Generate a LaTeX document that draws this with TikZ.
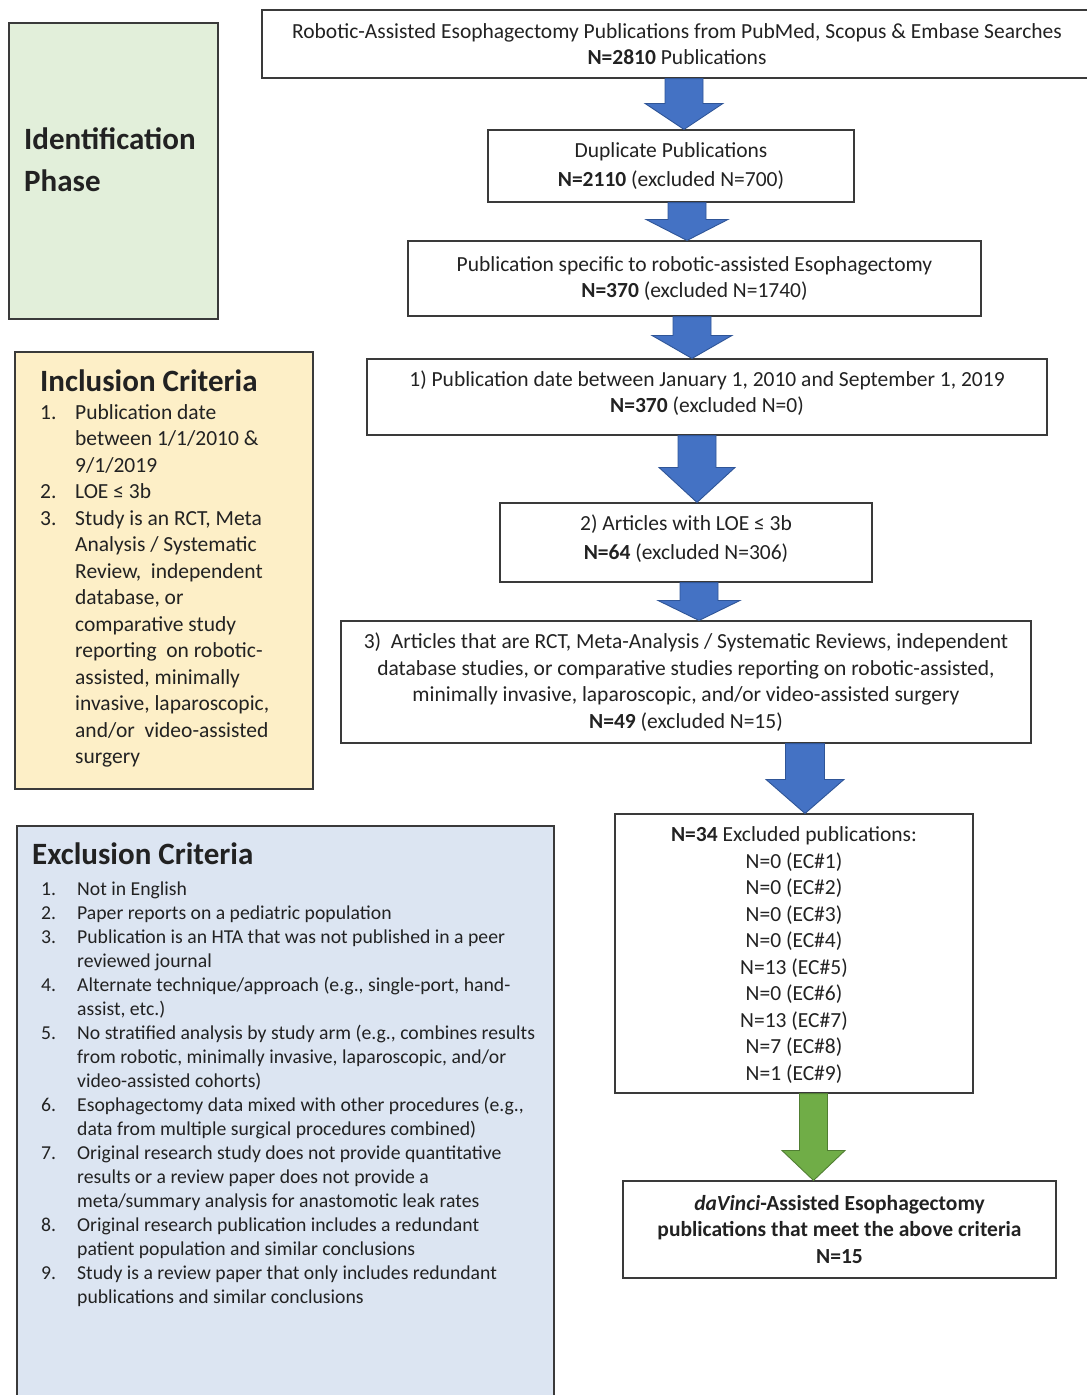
\documentclass[tikz,border=0pt]{standalone}
\usepackage{fontspec}
\setmainfont{Carlito}
\usetikzlibrary{calc}
\definecolor{idgreen}{HTML}{E2EFDA}
\definecolor{incyellow}{HTML}{FDEFC7}
\definecolor{excblue}{HTML}{DCE5F2}
\definecolor{boxline}{HTML}{3A3A3A}
\definecolor{txt}{HTML}{222222}
\definecolor{arrblue}{HTML}{4472C4}
\definecolor{arrblueline}{HTML}{2F5597}
\definecolor{arrgreen}{HTML}{70AD47}
\definecolor{arrgreenline}{HTML}{507E32}
\newcommand\mainfs{\fontsize{21.5}{26.5}\selectfont}
\newcommand\widefs{\fontsize{21.5}{29}\selectfont}
\newcommand\idfs{\fontsize{31}{42}\selectfont\bfseries}
\newcommand\incfs{\fontsize{21.5}{26.5}\selectfont}
\newcommand\excfs{\fontsize{19.7}{24}\selectfont}
\newcommand\incnum[1]{\makebox[35pt][l]{#1}}
\newcommand\incind{\hspace*{35pt}}
\newcommand\excnum[1]{\makebox[36pt][l]{#1}}
\newcommand\excind{\hspace*{36pt}}
\tikzset{
  flowbox/.style={draw=boxline, line width=1.1pt, fill=white, align=center, inner sep=0pt, font=\mainfs, text=txt},
  sidebox/.style={draw=boxline, line width=1.1pt, inner sep=0pt},
  plaintext/.style={inner sep=0pt, text=txt, align=left},
  bluearrow/.style={fill=arrblue, draw=arrblueline, line width=0.9pt, line join=miter},
  greenarrow/.style={fill=arrgreen, draw=arrgreenline, line width=0.9pt, line join=miter}
}
% #1 from node, #2 to node, #3 centre x, #4 shaft half width, #5 head half width, #6 head length, #7 style
\newcommand\blockarrow[7]{%
  \path[#7] let \p1=(#1.south), \p2=(#2.north) in
    (#3pt-#4pt,\y1) -- (#3pt+#4pt,\y1) -- (#3pt+#4pt,\y2+#6pt) -- (#3pt+#5pt,\y2+#6pt)
    -- (#3pt,\y2) -- (#3pt-#5pt,\y2+#6pt) -- (#3pt-#4pt,\y2+#6pt) -- cycle;}
\begin{document}
\begin{tikzpicture}[x=1pt,y=-1pt]
\useasboundingbox (0,0) rectangle (1087,1395);
\fill[white] (0,0) rectangle (1087,1395);
\clip (0,0) rectangle (1087,1395);

% ---------- left side panels ----------
\node[sidebox, fill=idgreen, minimum width=209pt, minimum height=296pt] (idbox) at (113.5,171) {};
\node[plaintext, anchor=west, font=\idfs] (idtext) at (24,160) {Identification\\Phase};

\node[sidebox, fill=incyellow, minimum width=298pt, minimum height=437pt] (incbox) at (164,570.5) {};
\node[plaintext, anchor=base west, font=\idfs] (inchead) at (40,391) {Inclusion Criteria};
\node[plaintext, anchor=north west, font=\incfs] (inclist) at (40,400.5) {%
\strut\incnum{1.}Publication date\\
\incind between 1/1/2010 \&\\
\incind 9/1/2019\\
\incnum{2.}LOE ≤ 3b\\
\incnum{3.}Study is an RCT, Meta\\
\incind Analysis / Systematic\\
\incind Review,\ \ independent\\
\incind database, or\\
\incind comparative study\\
\incind reporting\ \ on robotic-\\
\incind assisted, minimally\\
\incind invasive, laparoscopic,\\
\incind and/or\ \ video-assisted\\
\incind surgery};

\node[sidebox, fill=excblue, minimum width=537pt, minimum height=600pt] (excbox) at (285.5,1126) {};
\node[plaintext, anchor=base west, font=\idfs] (exchead) at (32,864) {Exclusion Criteria};
\node[plaintext, anchor=north west, font=\excfs] (exclist) at (41,878.2) {%
\strut\excnum{1.}Not in English\\
\excnum{2.}Paper reports on a pediatric population\\
\excnum{3.}Publication is an HTA that was not published in a peer\\
\excind reviewed journal\\
\excnum{4.}Alternate technique/approach (e.g., single-port, hand-\\
\excind assist, etc.)\\
\excnum{5.}No stratified analysis by study arm (e.g., combines results\\
\excind from robotic, minimally invasive, laparoscopic, and/or\\
\excind video-assisted cohorts)\\
\excnum{6.}Esophagectomy data mixed with other procedures (e.g.,\\
\excind data from multiple surgical procedures combined)\\
\excnum{7.}Original research study does not provide quantitative\\
\excind results or a review paper does not provide a\\
\excind meta/summary analysis for anastomotic leak rates\\
\excnum{8.}Original research publication includes a redundant\\
\excind patient population and similar conclusions\\
\excnum{9.}Study is a review paper that only includes redundant\\
\excind publications and similar conclusions};

% ---------- flow boxes ----------
\node[flowbox, minimum width=830pt, minimum height=68pt] (top) at (677,44)
  {Robotic-Assisted Esophagectomy Publications from PubMed, Scopus \& Embase Searches\\\textbf{N=2810} Publications};
\node[flowbox, font=\widefs, minimum width=366pt, minimum height=72pt] (dup) at (671,166)
  {Duplicate Publications\\\textbf{N=2110} (excluded N=700)};
\node[flowbox, minimum width=573pt, minimum height=75pt] (spec) at (694.5,278.5)
  {Publication specific to robotic-assisted Esophagectomy\\\textbf{N=370} (excluded N=1740)};
\node[flowbox, text depth=11pt, minimum width=680pt, minimum height=76pt] (date) at (707,397)
  {1) Publication date between January 1, 2010 and September 1, 2019\\\textbf{N=370} (excluded N=0)};
\node[flowbox, font=\widefs, text depth=11pt, minimum width=372pt, minimum height=79pt] (loe) at (686,542.5)
  {2) Articles with LOE ≤ 3b\\\textbf{N=64} (excluded N=306)};
\node[flowbox, minimum width=690pt, minimum height=122pt] (rct) at (686,682)
  {3)\ \ Articles that are RCT, Meta-Analysis / Systematic Reviews, independent\\
   database studies, or comparative studies reporting on robotic-assisted,\\
   minimally invasive, laparoscopic, and/or video-assisted surgery\\
   \textbf{N=49} (excluded N=15)};
\node[flowbox, text depth=0pt, minimum width=358pt, minimum height=279pt] (excl) at (794,953.5)
  {\textbf{N=34} Excluded publications:\\
   N=0 (EC\#1)\\N=0 (EC\#2)\\N=0 (EC\#3)\\N=0 (EC\#4)\\N=13 (EC\#5)\\
   N=0 (EC\#6)\\N=13 (EC\#7)\\N=7 (EC\#8)\\N=1 (EC\#9)};
\node[flowbox, font=\mainfs\bfseries, minimum width=433pt, minimum height=97pt] (final) at (839.5,1229.5)
  {\textit{daVinci}-Assisted Esophagectomy\\publications that meet the above criteria\\N=15};

% ---------- block arrows ----------
\blockarrow{top}{dup}{684}{19}{39}{26}{bluearrow}
\blockarrow{dup}{spec}{687}{19}{41}{21}{bluearrow}
\blockarrow{spec}{date}{692}{19}{40}{23}{bluearrow}
\blockarrow{date}{loe}{697}{19}{38}{35}{bluearrow}
\blockarrow{loe}{rct}{699}{19}{41}{20}{bluearrow}
\blockarrow{rct}{excl}{805}{19.5}{39}{34}{bluearrow}
\blockarrow{excl}{final}{813.5}{14}{31.5}{30}{greenarrow}
\end{tikzpicture}
\end{document}
